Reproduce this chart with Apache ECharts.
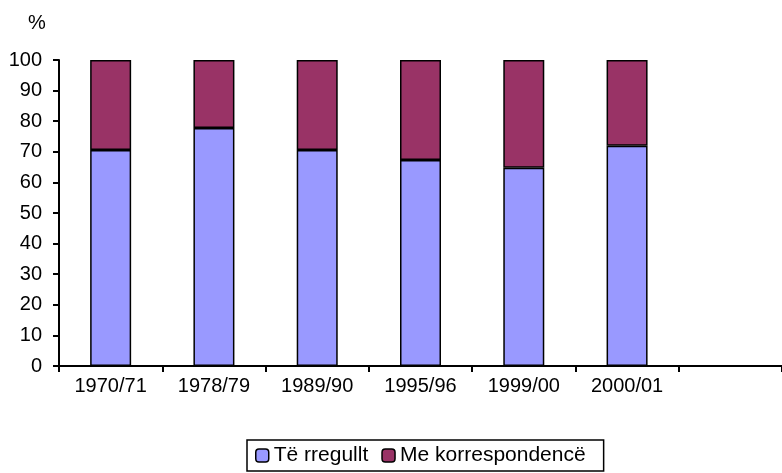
<!DOCTYPE html>
<html>
<head>
<meta charset="utf-8">
<script src="https://cdn.jsdelivr.net/npm/echarts@6/dist/echarts.min.js"></script>
<style>
  html, body { margin: 0; padding: 0; background: #fff; }
  #chart { width: 782px; height: 473px; }
</style>
</head>
<body>
<div id="chart"></div>
<script>
// kategoritë (e fundit bosh, si në origjinal)
var categories = ["1970/71", "1978/79", "1989/90", "1995/96", "1999/00", "2000/01", ""];
var seriesNames = ["Të rregullt", "Me korrespondencë"];
var regular = [70.6, 77.8, 70.6, 67.3, 64.8, 72.0, null];
var correspondence = [29.4, 22.2, 29.4, 32.7, 35.2, 28.0, null];
var colors = ["#9999ff", "#993366"];

var font = "'Liberation Sans', Arial, sans-serif";
var chart = echarts.init(document.getElementById("chart"));

var option = {
  animation: false,
  textStyle: { fontFamily: font },
  graphic: [{
    type: "text",
    left: 28,
    top: 13,
    style: { text: "%", font: "20px " + font, fill: "#000" }
  }],
  grid: {
    left: 59,
    top: 60,
    width: 733,
    height: 306
  },
  legend: {
    bottom: 2,
    left: 247,
    data: seriesNames,
    itemWidth: 13,
    itemHeight: 13,
    itemGap: 13,
    padding: [5, 18, 5, 8],
    borderColor: "#000",
    borderWidth: 1.5,
    borderRadius: 0,
    backgroundColor: "#fff",
    textStyle: { color: "#000", fontSize: 21, fontFamily: font },
    itemStyle: { borderColor: "#000", borderWidth: 1.5 }
  },
  xAxis: {
    type: "category",
    data: categories,
    axisLine: { lineStyle: { color: "#000", width: 2 } },
    axisTick: { show: true, interval: 0, length: 6, lineStyle: { color: "#000", width: 2 } },
    axisLabel: { color: "#000", fontSize: 20, fontFamily: font, margin: 10, interval: 0 }
  },
  yAxis: {
    type: "value",
    min: 0,
    max: 100,
    interval: 10,
    splitLine: { show: false },
    axisLine: { show: true, lineStyle: { color: "#000", width: 2 } },
    axisTick: { show: true, length: 6, lineStyle: { color: "#000", width: 2 } },
    axisLabel: { color: "#000", fontSize: 20, fontFamily: font, margin: 17 }
  },
  series: [
    {
      name: seriesNames[0],
      type: "bar",
      stack: "total",
      barWidth: 41,
      data: regular,
      itemStyle: { color: colors[0], borderColor: "#000", borderWidth: 1.5 }
    },
    {
      name: seriesNames[1],
      type: "bar",
      stack: "total",
      barWidth: 41,
      data: correspondence,
      itemStyle: { color: colors[1], borderColor: "#000", borderWidth: 1.5 }
    }
  ]
};
chart.setOption(option);
</script>
</body>
</html>
